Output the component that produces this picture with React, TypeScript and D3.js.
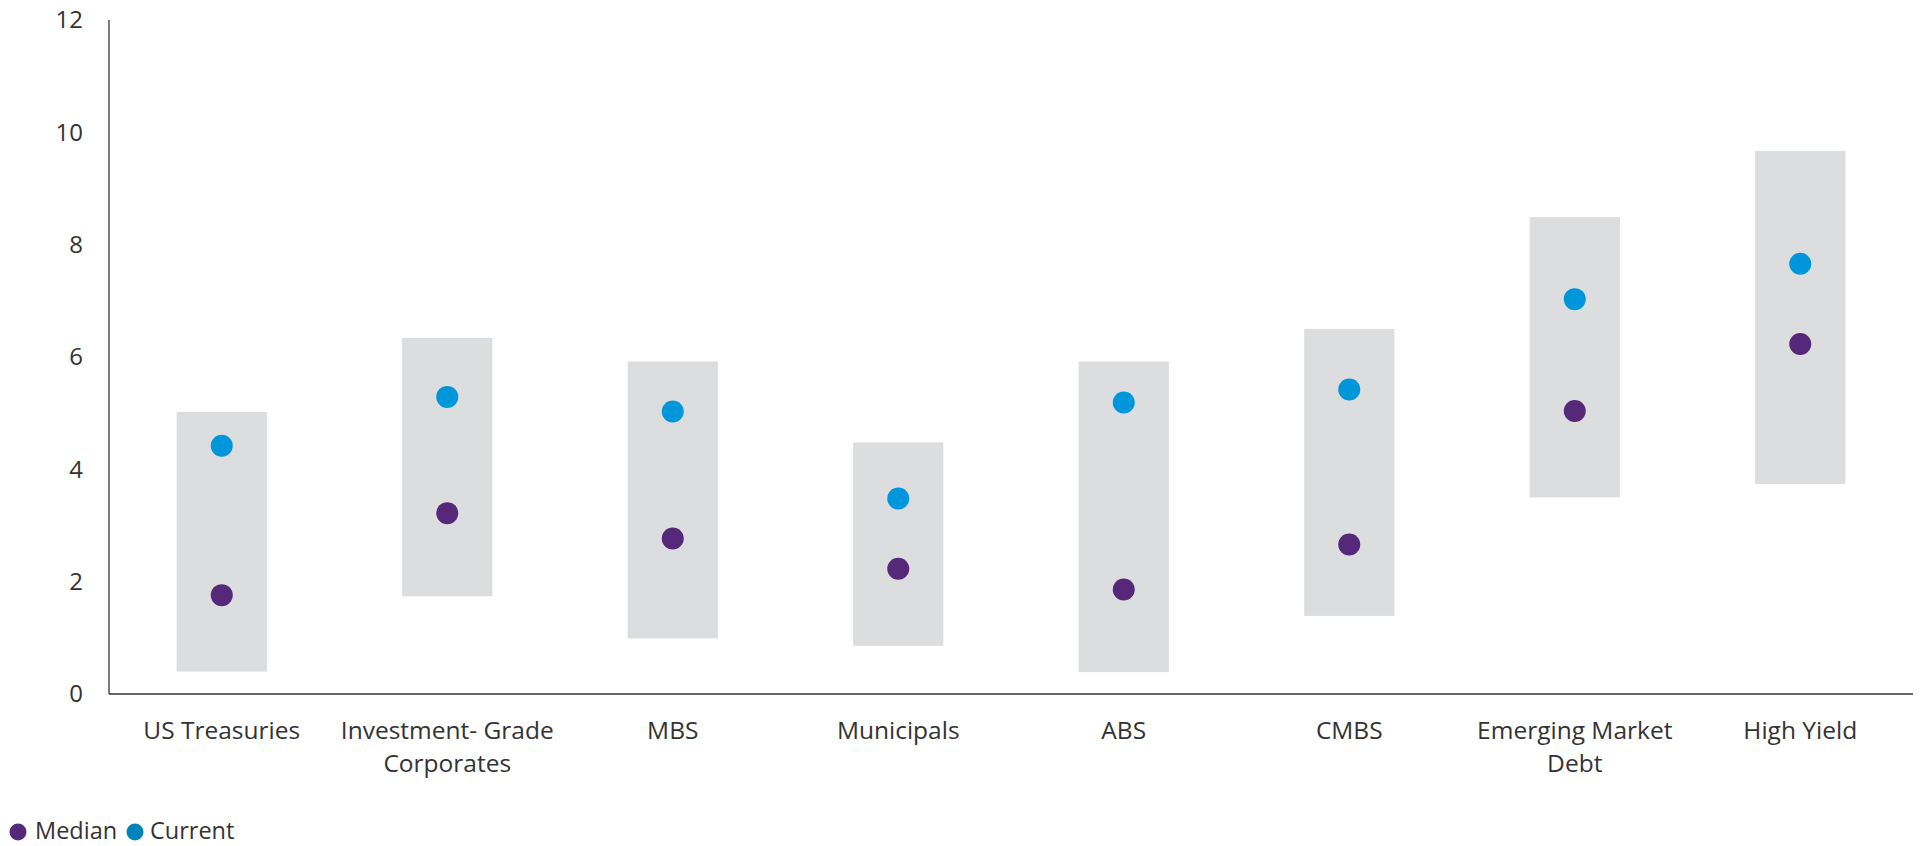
import React from "react";
import * as d3 from "d3";

// Yield ranges by fixed-income sector (%)
const categories: string[][] = [
  ["US Treasuries"],
  ["Investment- Grade", "Corporates"],
  ["MBS"],
  ["Municipals"],
  ["ABS"],
  ["CMBS"],
  ["Emerging Market", "Debt"],
  ["High Yield"],
];
const rangeLow: number[] = [0.4, 1.74, 0.99, 0.86, 0.39, 1.39, 3.5, 3.74];
const rangeHigh: number[] = [5.02, 6.34, 5.92, 4.48, 5.92, 6.5, 8.49, 9.67];
const medianValues: number[] = [1.76, 3.22, 2.77, 2.23, 1.86, 2.66, 5.04, 6.23];
const currentValues: number[] = [4.42, 5.29, 5.03, 3.48, 5.19, 5.42, 7.03, 7.66];
const yTicks: number[] = [0, 2, 4, 6, 8, 10, 12];

const W = 1921;
const H = 846;
const left = 109;
const right = 1913;
const top = 20;
const bottom = 694;

const FONT = "'Open Sans', 'Noto Sans', sans-serif";
const TEXT = "#333333";
const BAR = "#dcdddf";
const MEDIAN = "#55287a";
const CURRENT = "#0096db";

export default function App() {
  const keys = categories.map((c) => c.join(" "));
  const x = d3
    .scaleBand<string>()
    .domain(keys)
    .range([left, right])
    .paddingInner(0.6)
    .paddingOuter(0.3);
  const y = d3.scaleLinear().domain([0, 12]).range([bottom, top]);
  const bw = x.bandwidth();

  return (
    <div style={{ position: "absolute", left: 0, top: 0 }}>
      <svg width={W} height={H} style={{ display: "block", background: "#fff" }}>
        {/* range boxes */}
        {keys.map((k, i) => (
          <rect
            key={"r" + k}
            x={x(k)!}
            y={y(rangeHigh[i])}
            width={bw}
            height={y(rangeLow[i]) - y(rangeHigh[i])}
            fill={BAR}
          />
        ))}
        {/* current and median markers */}
        {keys.map((k, i) => (
          <g key={"d" + k}>
            <circle cx={x(k)! + bw / 2} cy={y(currentValues[i])} r={11} fill={CURRENT} />
            <circle cx={x(k)! + bw / 2} cy={y(medianValues[i])} r={11} fill={MEDIAN} />
          </g>
        ))}
        {/* axes */}
        <line x1={left} x2={left} y1={top} y2={bottom} stroke="#333" strokeWidth={1.3} />
        <line x1={left} x2={right} y1={bottom} y2={bottom} stroke="#333" strokeWidth={1.3} />
        {yTicks.map((t) => (
          <text
            key={"t" + t}
            x={83}
            y={y(t)}
            dy="0.35em"
            textAnchor="end"
            fontFamily={FONT}
            fontSize={24}
            fill={TEXT}
          >
            {t}
          </text>
        ))}
        {categories.map((lines, i) => (
          <text
            key={"c" + i}
            x={x(keys[i])! + bw / 2}
            y={739}
            textAnchor="middle"
            fontFamily={FONT}
            fontSize={24.5}
            fill={TEXT}
          >
            {lines.map((ln, j) => (
              <tspan key={j} x={x(keys[i])! + bw / 2} dy={j === 0 ? 0 : 33}>
                {ln}
              </tspan>
            ))}
          </text>
        ))}
        {/* legend */}
        <circle cx={18} cy={832} r={8.5} fill={MEDIAN} />
        <text x={35} y={839} fontFamily={FONT} fontSize={23.5} fill={TEXT}>
          Median
        </text>
        <circle cx={135} cy={832} r={8.5} fill="#0083b8" />
        <text x={150} y={839} fontFamily={FONT} fontSize={23.5} fill={TEXT}>
          Current
        </text>
      </svg>
    </div>
  );
}
